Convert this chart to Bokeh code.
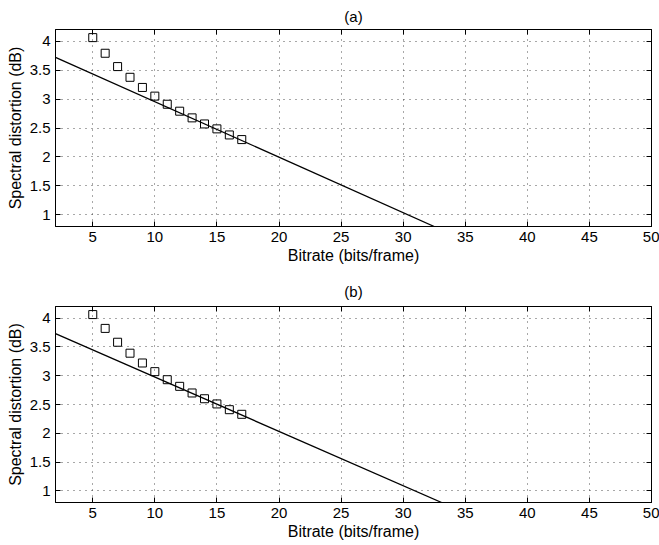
from bokeh.plotting import figure
from bokeh.layouts import column
from bokeh.models import LinearAxis, FixedTicker, Range1d, CustomJSTickFormatter
from bokeh.embed import file_html
from bokeh.resources import INLINE

# ---- data ----
bitrate = [5, 6, 7, 8, 9, 10, 11, 12, 13, 14, 15, 16, 17]
sd_a = [4.06, 3.79, 3.56, 3.375, 3.20, 3.05, 2.91, 2.79, 2.675, 2.57, 2.485, 2.38, 2.30]
sd_b = [4.06, 3.82, 3.58, 3.39, 3.22, 3.07, 2.93, 2.815, 2.70, 2.60, 2.51, 2.41, 2.33]
line_a_x = [2, 32.5]
line_a_y = [3.72, 0.8]
line_b_x = [2, 33.1]
line_b_y = [3.73, 0.8]
x_ticks = [5, 10, 15, 20, 25, 30, 35, 40, 45, 50]
y_ticks = [1, 1.5, 2, 2.5, 3, 3.5, 4]
y_tick_labels = {1: "1", 1.5: "1.5", 2: "2", 2.5: "2.5", 3: "3", 3.5: "3.5", 4: "4"}
titles = ["(a)", "(b)"]
x_label = "Bitrate (bits/frame)"
y_label = "Spectral distortion (dB)"

FONT = "Liberation Sans"
TICK_FS = "15px"
LABEL_FS = "16px"


def style_axis(ax, show_labels):
    ax.axis_line_color = "black"
    ax.major_tick_line_color = "black"
    ax.major_tick_in = 5
    ax.major_tick_out = 0
    ax.minor_tick_line_color = None
    ax.major_label_text_font = FONT
    ax.major_label_text_font_size = TICK_FS
    ax.major_label_text_color = "black"
    ax.axis_label_text_font = FONT
    ax.axis_label_text_font_size = LABEL_FS
    ax.axis_label_text_font_style = "normal"
    ax.axis_label_text_color = "black"
    if not show_labels:
        ax.formatter = CustomJSTickFormatter(code="return ''")
        ax.major_label_standoff = 0


def make_panel(title, xs, ys, lx, ly, height, top, bottom, title_standoff):
    p = figure(width=659, height=height, output_backend="svg", toolbar_location=None,
               x_range=Range1d(2, 50), y_range=Range1d(0.8, 4.2),
               min_border_left=55, min_border_right=8,
               min_border_top=top, min_border_bottom=bottom,
               background_fill_color="white", border_fill_color="white")
    p.title.text = title
    p.title.align = "center"
    p.title.text_font = FONT
    p.title.text_font_size = "15px"
    p.title.text_font_style = "normal"
    p.title.text_color = "black"
    p.title.standoff = title_standoff

    p.xaxis.ticker = FixedTicker(ticks=x_ticks)
    p.yaxis.ticker = FixedTicker(ticks=y_ticks)
    p.yaxis.major_label_overrides = y_tick_labels
    p.xaxis.axis_label = x_label
    p.yaxis.axis_label = y_label
    style_axis(p.xaxis[0], True)
    style_axis(p.yaxis[0], True)
    p.xaxis.major_label_standoff = 5
    p.xaxis.axis_label_standoff = 2
    p.yaxis.major_label_standoff = 5
    p.yaxis.axis_label_standoff = 3

    top_ax = LinearAxis(ticker=FixedTicker(ticks=x_ticks))
    right_ax = LinearAxis(ticker=FixedTicker(ticks=y_ticks))
    style_axis(top_ax, False)
    style_axis(right_ax, False)
    p.add_layout(top_ax, "above")
    p.add_layout(right_ax, "right")

    p.xgrid.ticker = FixedTicker(ticks=x_ticks)
    p.ygrid.ticker = FixedTicker(ticks=y_ticks)
    for g in (p.xgrid[0], p.ygrid[0]):
        g.grid_line_color = "#333333"
        g.grid_line_dash = "1 5"
        g.grid_line_width = 1
        g.grid_line_alpha = 0.85

    p.outline_line_color = "black"
    p.outline_line_width = 1

    p.line(lx, ly, line_color="black", line_width=1.3)
    p.scatter(xs, ys, marker="square", size=8, fill_color=None,
              line_color="black", line_width=1)
    return p


p1 = make_panel(titles[0], bitrate, sd_a, line_a_x, line_a_y, 272, 29, 46, 10)
p2 = make_panel(titles[1], bitrate, sd_b, line_b_x, line_b_y, 273, 34, 43, 13)

layout = column(p1, p2, spacing=0)
open("out.html", "w").write(file_html(layout, INLINE))
